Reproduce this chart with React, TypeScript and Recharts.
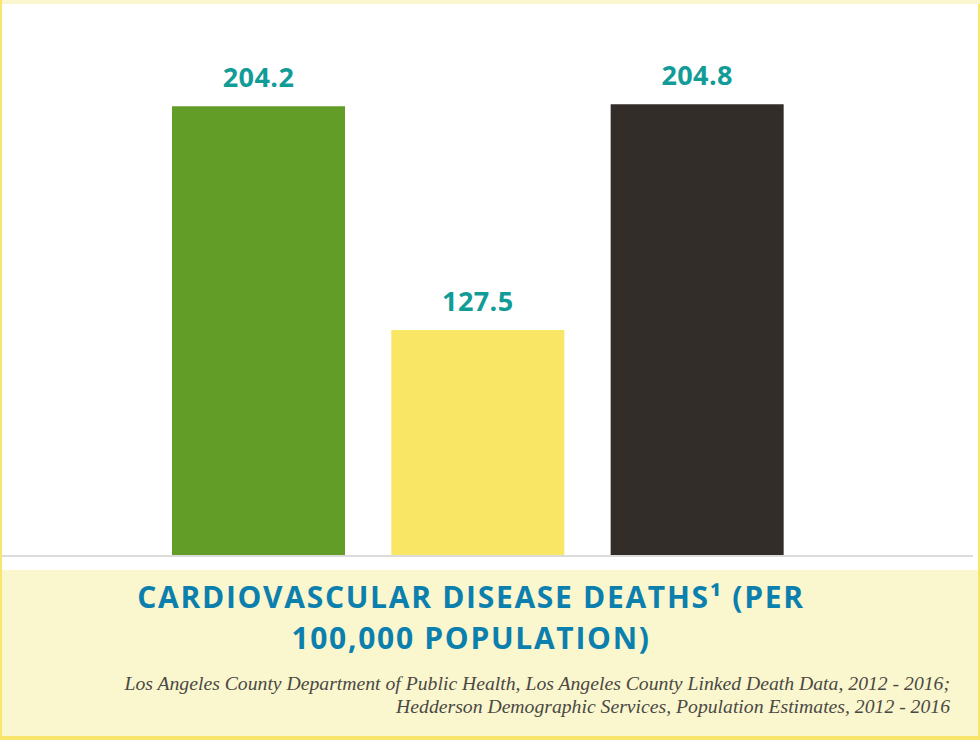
import React from "react";
import { BarChart, Bar, XAxis, YAxis, Cell, LabelList } from "recharts";

const categories = ["Area A", "Area B", "Area C"];
const deathRates = [204.2, 127.5, 204.8];
const barColors = ["#629e27", "#fae665", "#332d2a"];
const titleLines = ["CARDIOVASCULAR DISEASE DEATHS\u00b9 (PER", "100,000 POPULATION)"];
const sourceLines = [
  "Los Angeles County Department of Public Health, Los Angeles County Linked Death Data, 2012 - 2016;",
  "Hedderson Demographic Services, Population Estimates, 2012 - 2016",
];

const data = categories.map((name, i) => ({ name, value: deathRates[i] }));

export default function App() {
  return (
    <div
      style={{
        position: "absolute",
        left: 0,
        top: 0,
        width: 980,
        height: 740,
        background: "#f8e66c",
        overflow: "hidden",
      }}
    >
      <div style={{ position: "absolute", left: 2, top: 0, width: 976, height: 736, background: "#ffffff" }} />
      <div style={{ position: "absolute", left: 2, top: 0, width: 978, height: 4, background: "#faf7cf" }} />
      <div style={{ position: "absolute", left: 2, top: 570, width: 976, height: 166, background: "#faf6cd" }} />
      <div style={{ position: "absolute", left: 2, top: 0 }}>
        <BarChart
          width={971}
          height={566}
          data={data}
          margin={{ top: 60, right: 0, bottom: 0, left: 0 }}
        >
          <XAxis
            dataKey="name"
            tick={false}
            tickLine={false}
            height={10}
            padding={{ left: 147, right: 166 }}
            axisLine={{ stroke: "#dcdcdc", strokeWidth: 2 }}
          />
          <YAxis hide domain={[50.1, 220]} allowDataOverflow />
          <Bar dataKey="value" barSize={173} isAnimationActive={false}>
            {data.map((d, i) => (
              <Cell key={d.name} fill={barColors[i]} />
            ))}
            <LabelList
              dataKey="value"
              position="top"
              offset={19}
              formatter={(v: number) => v.toFixed(1)}
              style={{ fill: "#129c98", fontSize: 27, fontWeight: 700, fontFamily: "'Open Sans', sans-serif", letterSpacing: 0.4 }}
            />
          </Bar>
        </BarChart>
      </div>
      <div
        style={{
          position: "absolute",
          left: 0,
          top: 576,
          width: 942,
          textAlign: "center",
          fontFamily: "'Open Sans', sans-serif",
          fontWeight: 700,
          fontSize: 30,
          lineHeight: "41px",
          letterSpacing: 1.7,
          color: "#0b7fad",
        }}
      >
        {titleLines.map((t) => (
          <div key={t}>{t}</div>
        ))}
      </div>
      <div
        style={{
          position: "absolute",
          right: 30,
          top: 672,
          textAlign: "right",
          fontFamily: "'Liberation Serif', serif",
          fontStyle: "italic",
          fontSize: 19.7,
          lineHeight: "23px",
          color: "#4a4945",
          whiteSpace: "nowrap",
        }}
      >
        {sourceLines.map((t) => (
          <div key={t}>{t}</div>
        ))}
      </div>
    </div>
  );
}
